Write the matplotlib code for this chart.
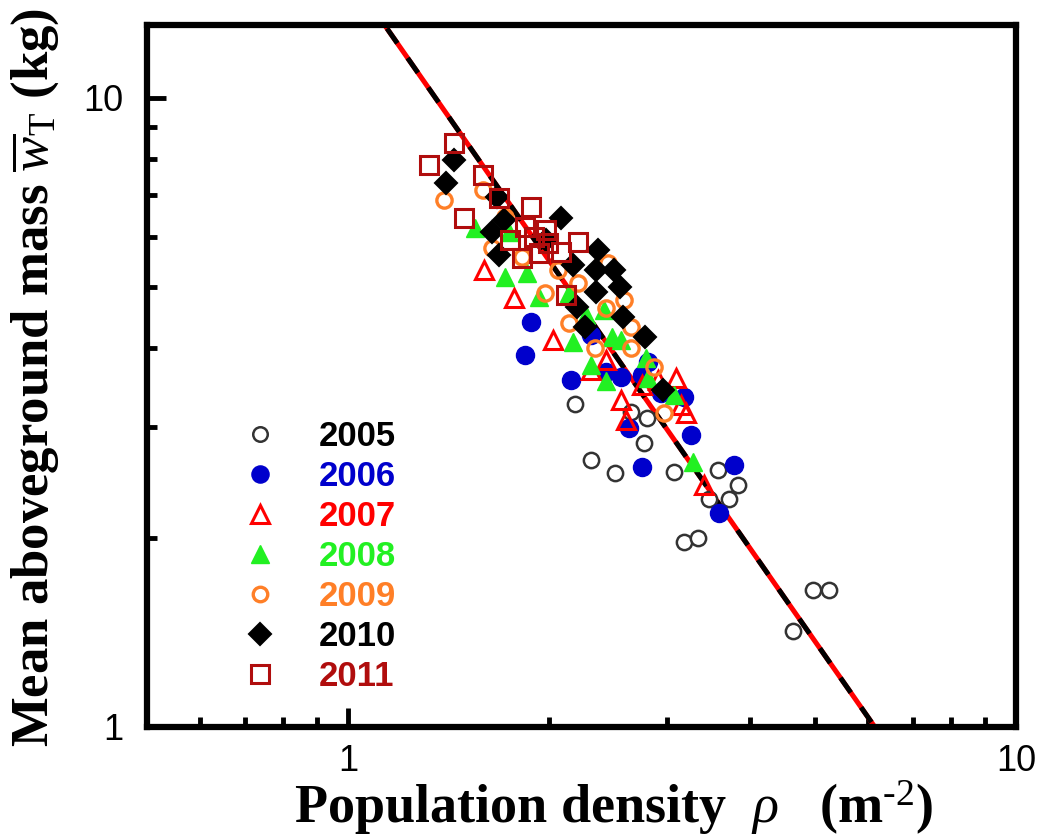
import matplotlib
matplotlib.use('Agg')
import matplotlib.pyplot as plt
import numpy as np
from matplotlib.ticker import FixedLocator, FixedFormatter, NullFormatter

plt.rcParams['mathtext.fontset'] = 'custom'
plt.rcParams['mathtext.rm'] = 'Liberation Serif'
plt.rcParams['mathtext.it'] = 'Liberation Serif:italic'
plt.rcParams['mathtext.bf'] = 'Liberation Serif:bold'

# data: population density (m^-2) and mean mass (kg)
rho_2005 = [2.19, 2.65, 2.80, 2.31, 2.51, 2.77, 3.08, 3.58, 3.84, 3.47, 3.72, 3.18, 3.34, 4.97, 5.25, 4.64]
w_2005 = [3.26, 3.17, 3.10, 2.66, 2.53, 2.83, 2.54, 2.56, 2.42, 2.30, 2.30, 1.97, 2.00, 1.65, 1.65, 1.42]

rho_2006 = [1.88, 1.84, 2.16, 2.31, 2.56, 2.63, 2.75, 2.81, 2.94, 3.18, 3.26, 3.78, 3.59, 2.43, 2.75]
w_2006 = [4.40, 3.90, 3.56, 4.20, 3.60, 2.99, 2.59, 3.80, 3.39, 3.35, 2.91, 2.61, 2.19, 3.67, 3.63]

rho_2007 = [1.60, 1.77, 2.03, 2.31, 2.56, 2.61, 3.10, 3.21, 3.41, 2.43, 2.75, 2.91, 3.15]
w_2007 = [5.32, 4.81, 4.12, 3.69, 3.31, 3.08, 3.59, 3.16, 2.42, 3.83, 3.49, 3.56, 3.25]

rho_2008 = [1.55, 1.74, 1.72, 1.85, 1.93, 2.14, 2.17, 2.31, 2.43, 2.42, 2.48, 2.56, 2.79, 2.81, 3.08, 3.28, 2.27]
w_2008 = [6.21, 6.12, 5.19, 5.27, 4.82, 4.90, 4.09, 3.76, 3.55, 4.60, 4.17, 4.12, 3.86, 3.59, 3.37, 2.64, 4.52]

rho_2009 = [1.39, 1.59, 1.64, 1.72, 1.82, 1.97, 2.06, 2.21, 2.14, 2.34, 2.43, 2.45, 2.59, 2.65, 2.87, 2.97, 2.65]
w_2009 = [6.88, 7.13, 5.77, 6.46, 5.58, 4.90, 5.32, 5.08, 4.39, 4.00, 4.63, 5.46, 4.77, 4.32, 3.73, 3.16, 4.00]

rho_2010 = [1.44, 1.40, 1.67, 1.71, 1.64, 1.68, 2.08, 1.98, 2.17, 2.37, 2.35, 2.50, 2.35, 2.55, 2.20, 2.26, 2.58, 2.78, 2.96]
w_2010 = [7.96, 7.32, 6.95, 6.39, 6.12, 5.62, 6.44, 5.94, 5.42, 5.73, 5.32, 5.32, 4.91, 5.00, 4.65, 4.32, 4.48, 4.17, 3.43]

rho_2011 = [1.32, 1.44, 1.49, 1.59, 1.68, 1.88, 2.21, 1.84, 1.90, 1.99, 2.08, 1.82, 1.93, 1.98, 2.12, 1.75]
w_2011 = [7.82, 8.47, 6.44, 7.54, 6.93, 6.70, 5.90, 6.23, 6.01, 5.88, 5.69, 5.56, 5.67, 6.16, 4.86, 5.94]

# power-law fit  w = c * rho^b
fit_c = 15.8
fit_b = -1.52

years = ['2005', '2006', '2007', '2008', '2009', '2010', '2011']
rhos = [rho_2005, rho_2006, rho_2007, rho_2008, rho_2009, rho_2010, rho_2011]
ws = [w_2005, w_2006, w_2007, w_2008, w_2009, w_2010, w_2011]

styles = [
    dict(marker='o', ms=11, mfc='white', mec='#333333', mew=1.8),
    dict(marker='o', ms=13, mfc='#0000cc', mec='#0000cc', mew=1),
    dict(marker='^', ms=13, mfc='none', mec='#ff0000', mew=2.2),
    dict(marker='^', ms=13, mfc='#22f022', mec='#22f022', mew=1),
    dict(marker='o', ms=11, mfc='none', mec='#ff7f27', mew=2.4),
    dict(marker='D', ms=11.5, mfc='black', mec='black', mew=1.5),
    dict(marker='s', ms=13, mfc='none', mec='#b00d0d', mew=2.2),
]
text_colors = ['black', '#0000cc', '#ff0000', '#22f022', '#ff7f27', 'black', '#b00d0d']

fig = plt.figure(figsize=(10.41, 8.38), dpi=100)
ax = fig.add_axes([0.1412, 0.1325, 0.8348, 0.8377])
ax.set_xscale('log')
ax.set_yscale('log')

xs = np.logspace(np.log10(0.5), 1, 200)
ax.plot(xs, fit_c * xs ** fit_b, color='#ff0000', lw=3.6, zorder=2)
ax.plot(xs, fit_c * xs ** fit_b, color='black', lw=3.6, dashes=(3.6, 3.6), zorder=2)

for yr, r, w, st in zip(years, rhos, ws, styles):
    ax.plot(r, w, linestyle='none', label=yr, zorder=3, **st)

ax.set_xlim(0.5, 10)
ax.set_ylim(1, 13.05)

ax.xaxis.set_major_locator(FixedLocator([1, 10]))
ax.xaxis.set_major_formatter(FixedFormatter(['1', '10']))
ax.xaxis.set_minor_locator(FixedLocator([0.6, 0.7, 0.8, 0.9, 2, 3, 4, 5, 6, 7, 8, 9]))
ax.xaxis.set_minor_formatter(NullFormatter())
ax.yaxis.set_major_locator(FixedLocator([1, 10]))
ax.yaxis.set_major_formatter(FixedFormatter(['1', '10']))
ax.yaxis.set_minor_locator(FixedLocator([2, 3, 4, 5, 6, 7, 8, 9]))
ax.yaxis.set_minor_formatter(NullFormatter())

ax.tick_params(which='both', direction='in', top=False, right=False, width=3.5)
ax.tick_params(which='major', length=14)
ax.tick_params(which='minor', length=7)
ax.tick_params(axis='x', which='major', pad=12)
ax.tick_params(axis='y', which='major', pad=17)
for lab in ax.get_xticklabels() + ax.get_yticklabels():
    lab.set_fontfamily('Liberation Sans')
    lab.set_fontsize(26)

for sp in ax.spines.values():
    sp.set_linewidth(4.5)

leg = ax.legend(loc='upper left', bbox_to_anchor=(0.09, 0.462), frameon=False,
                handlelength=1.0, handletextpad=1.2, labelspacing=0.2, borderpad=0,
                prop={'family': 'Liberation Sans', 'weight': 'bold', 'size': 25},
                labelcolor=text_colors, markerscale=0.95)

fig.text(0.589, 0.036, r'Population density  $\rho$   (m$^{\text{-}2}$)', ha='center', va='center',
         fontsize=39, fontweight='bold', family='Liberation Serif')
fig.text(0.034, 0.55, r'Mean aboveground mass $\overline{w}_{\mathrm{T}}$ (kg)', ha='center', va='center',
         rotation=90, fontsize=38, fontweight='bold', family='Liberation Serif')

fig.savefig('out.png', dpi=100, facecolor='white')
